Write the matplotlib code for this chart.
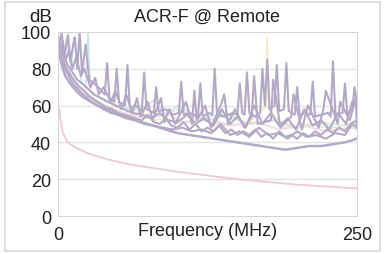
import numpy as np
import matplotlib.pyplot as plt
from matplotlib.patches import Rectangle

plt.rcParams['font.family'] = ['Liberation Sans', 'DejaVu Sans']

# limite (rosa)
lim_f = [1, 2, 4, 8, 15, 25, 40, 60, 100, 150, 200, 250]
lim_db = [58, 52, 45, 40, 37, 34, 31, 28, 24, 20, 17, 15]

# trazas moradas
s1_f = [1, 3, 5, 8, 10, 14, 16, 18, 20, 23, 26, 30, 35, 39, 41, 43, 47, 49, 51, 56,
        58, 60, 65, 70, 72, 74, 80, 82, 84, 90, 96, 101, 103, 105, 110, 117, 119, 121,
        126, 129, 131, 133, 140, 146, 150, 152, 154, 156, 158, 160, 165, 169, 171, 173,
        175, 177, 181, 183, 185, 189, 191, 193, 198, 200, 202, 207, 211, 213, 215, 220,
        226, 228, 230, 232, 238, 240, 242, 246, 248, 250]
s1_db = [92, 100, 86, 98, 84, 97, 80, 100, 78, 93, 74, 72, 69, 66, 83, 64, 62, 80, 62, 60,
         82, 59, 60, 57, 78, 58, 56, 70, 57, 58, 55, 56, 73, 55, 56, 54, 72, 54,
         56, 55, 80, 55, 54, 56, 55, 72, 56, 55, 78, 56, 54, 56, 80, 60,
         85, 58, 60, 82, 57, 58, 83, 57, 55, 70, 55, 56, 55, 73, 54, 55,
         56, 54, 84, 55, 56, 72, 55, 57, 70, 62]

s2_f = [1, 2, 4, 6, 9, 12, 15, 19, 22, 27, 31, 34, 38, 44, 48, 53, 57, 62, 66, 69, 75,
        79, 86, 89, 93, 98, 107, 112, 114, 116, 123, 128, 136, 139, 142, 148, 156, 162,
        164, 167, 178, 180, 186, 195, 197, 204, 209, 218, 222, 224, 234, 236, 244, 249, 250]
s2_db = [97, 88, 95, 84, 90, 80, 86, 76, 80, 70, 75, 66, 70, 62, 68, 58, 66, 56, 64, 54, 62,
         52, 64, 51, 58, 50, 62, 50, 68, 52, 60, 48, 60, 66, 50, 58, 48, 54,
         76, 50, 52, 74, 48, 54, 66, 47, 60, 48, 58, 68, 50, 62, 52, 64, 48]

s3_f = [1, 3, 5, 8, 11, 14, 18, 22, 26, 30, 35, 40, 45, 50, 55, 60, 65, 70, 75, 80, 85,
        90, 95, 100, 105, 110, 115, 120, 125, 130, 135, 140, 145, 150, 155, 160, 165, 170,
        175, 180, 185, 190, 195, 200, 205, 210, 215, 220, 225, 230, 235, 240, 245, 250]
s3_db = [90, 86, 83, 79, 76, 73, 70, 68, 65, 63, 61, 59, 58, 56, 55, 54, 53, 52, 55, 51, 50,
         53, 49, 48, 51, 47, 50, 46, 48, 46, 49, 45, 47, 44, 46, 44, 47, 43,
         45, 42, 46, 43, 44, 42, 45, 43, 46, 44, 47, 45, 48, 46, 50, 52]

mid1_f = [1, 3, 5, 8, 12, 16, 20, 25, 30, 36, 42, 48, 55, 62, 70, 78, 85, 92, 100, 108,
          115, 122, 130, 137, 144, 150, 157, 164, 171, 178, 185, 192, 199, 206, 213, 220,
          227, 234, 241, 246, 250]
mid1_db = [94, 90, 86, 82, 78, 74, 72, 69, 66, 64, 62, 60, 58, 56, 55, 53, 56, 52, 51, 55,
           50, 53, 49, 58, 50, 54, 48, 60, 50, 56, 49, 53, 47, 58, 49, 52, 47, 56, 50, 62, 60]

mid2_f = [1, 2, 4, 6, 9, 12, 15, 19, 23, 28, 33, 38, 44, 50, 57, 64, 72, 80, 88, 96, 104,
          112, 120, 128, 136, 144, 152, 160, 168, 176, 184, 192, 200, 208, 216, 224, 232,
          240, 246, 250]
mid2_db = [91, 88, 84, 80, 76, 72, 70, 67, 65, 62, 60, 58, 56, 55, 53, 52, 50, 49, 48, 47,
           48, 46, 47, 45, 50, 44, 46, 43, 48, 44, 45, 42, 46, 43, 44, 42, 45, 44, 50, 48]

low_f = [1, 3, 6, 10, 15, 20, 30, 40, 50, 60, 70, 80, 90, 100, 110, 120, 130, 140, 150,
         160, 170, 180, 190, 200, 210, 220, 230, 240, 250]
low_db = [88, 82, 76, 72, 68, 65, 61, 58, 55, 53, 51, 49, 47, 45, 44, 43, 42, 41, 40, 39,
          38, 37, 36, 37, 38, 38, 39, 40, 42]

# trazas pastel
blue_f = [2, 5, 9, 11, 13, 20, 23, 25, 27, 30, 40, 50, 60, 70, 80, 90, 100, 120, 140, 160,
          180, 200, 220, 240, 250]
blue_db = [90, 85, 99, 80, 97, 72, 70, 100, 68, 66, 62, 60, 58, 57, 63, 55, 60, 53, 56, 50,
           52, 48, 50, 47, 49]

yel_f = [3, 10, 20, 30, 40, 50, 60, 70, 80, 90, 100, 120, 140, 160, 174, 175, 176, 190,
         210, 230, 250]
yel_db = [84, 76, 68, 63, 59, 57, 54, 57, 52, 53, 50, 52, 49, 51, 60, 97, 58, 48, 50, 47, 52]

grn_f = [4, 12, 25, 40, 55, 70, 85, 100, 120, 140, 160, 180, 200, 220, 240, 250]
grn_db = [82, 73, 66, 60, 56, 60, 54, 58, 52, 54, 50, 52, 48, 51, 49, 50]

pnk_f = [5, 15, 30, 45, 60, 75, 90, 105, 125, 145, 165, 185, 205, 225, 245, 250]
pnk_db = [80, 70, 63, 58, 55, 53, 56, 51, 53, 49, 51, 47, 49, 46, 48, 47]

fig = plt.figure(figsize=(3.85, 2.55), dpi=100)
fig.patches.append(Rectangle((0.012, 0.01), 0.975, 0.98, transform=fig.transFigure,
                             fill=False, edgecolor='#d9d9d9', lw=1.2))
ax = fig.add_axes([0.151, 0.149, 0.776, 0.722])

for y in [20, 40, 60, 80]:
    ax.axhline(y, color='#e4e4e4', lw=1, zorder=0)

ax.plot(lim_f, lim_db, color='#efc9d3', lw=1.3)
ax.plot(blue_f, blue_db, color='#cfe3ee', lw=1.2)
ax.plot(yel_f, yel_db, color='#f1eac2', lw=1.2)
ax.plot(grn_f, grn_db, color='#d7ead0', lw=1.2)
ax.plot(pnk_f, pnk_db, color='#f0d7ea', lw=1.2)

purple = '#b3a9c7'
ax.plot(low_f, low_db, color=purple, lw=1.8)
ax.plot(mid2_f, mid2_db, color=purple, lw=1.5)
ax.plot(mid1_f, mid1_db, color=purple, lw=1.5)
ax.plot(s3_f, s3_db, color=purple, lw=1.5)
ax.plot(s2_f, s2_db, color=purple, lw=1.5)
ax.plot(s1_f, s1_db, color=purple, lw=1.5)

ax.set_xlim(0, 250)
ax.set_ylim(0, 100)
ax.set_xticks([0, 250])
ax.set_yticks([0, 20, 40, 60, 80, 100])
ax.tick_params(length=0, labelsize=13, colors='#222222', pad=5)
ax.tick_params(axis='x', pad=7)
for s in ax.spines.values():
    s.set_color('#d6d6d6')

ax.set_xlabel('Frequency (MHz)', fontsize=13, color='#222222', labelpad=-15)
fig.text(0.537, 0.932, 'ACR-F @ Remote', ha='center', va='center', fontsize=13,
         color='#222222')
fig.text(0.105, 0.932, 'dB', ha='center', va='center', fontsize=13.5, color='#222222')

fig.savefig('out.png', dpi=100)
